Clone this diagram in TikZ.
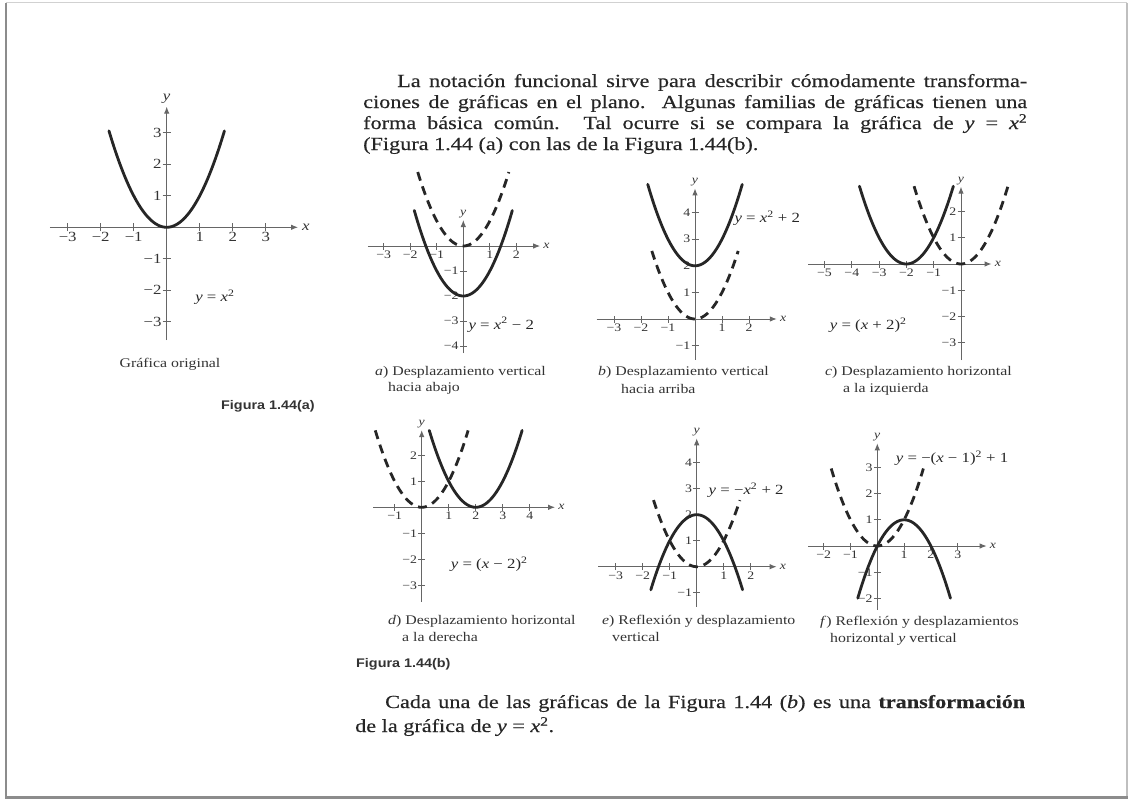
\documentclass[tikz,border=0pt]{standalone}
\usepackage{fontspec}
\setmainfont{Liberation Serif}[FakeStretch=1.2]
\newfontfamily\bodyfont{Liberation Serif}[FakeStretch=1.2, FakeBold=0.3]
\newfontfamily\figsans{Liberation Sans}[FakeStretch=1.15]
\usetikzlibrary{arrows.meta}
\newcommand\vy{\textit{y}}
\newcommand\vx{\textit{x}}
\newcommand\lab[1]{\ifnum#1<0 −\number\numexpr-#1\relax\else#1\fi}
\tikzset{
  ax/.style={draw=black!60, line width=1pt},
  axa/.style={ax, -{Latex[length=7pt,width=5.5pt]}},
  crv/.style={draw=black!85, line width=2.8pt, line cap=round},
  dcrv/.style={draw=black!85, line width=2.8pt, dash pattern=on 9pt off 6pt},
  tl/.style={inner sep=1pt, text=black!80, font=\fontsize{11.5}{12}\selectfont},
  tlb/.style={inner sep=1pt, text=black!80, font=\fontsize{14}{15}\selectfont},
  eqtxt/.style={inner sep=1pt, text=black!85, font=\fontsize{14}{15}\selectfont},
  captxt/.style={inner sep=0pt, anchor=base west, text=black!80, font=\fontsize{13.2}{14}\selectfont},
  bodytxt/.style={inner sep=0pt, anchor=base west, text=black!85, font=\bodyfont\fontsize{18.5}{21}\selectfont},
  figtxt/.style={inner sep=0pt, anchor=base west, text=black!80, font=\figsans\bfseries\fontsize{12.5}{14}\selectfont},
}
\begin{document}
\begin{tikzpicture}[x=1pt,y=-1pt]
\useasboundingbox (0,0) rectangle (1132,801);
\fill[white] (0,0) rectangle (1132,801);
% page frame with shadow
\draw[black!18, line width=1pt] (6,2.5) -- (1127,2.5);
\draw[black!25, line width=1.2pt] (1127,2.5) -- (1127,796);
\draw[black!45, line width=2.5pt] (6,3) -- (6,797);
\draw[black!45, line width=3pt] (5,797.5) -- (1128,797.5);

% ---------- Figura 1.44(a): original graph ----------
\begin{scope}[shift={(166.7pt,-227.3pt)}, x=33pt, y=31.5pt]
  \draw[axa] (-3.54,0) -- (3.98,0);
  \draw[axa] (0,-3.58) -- (0,3.83);
  \foreach \t in {-3,-2,-1,1,2,3} {
    \draw[ax] ([yshift=-4pt]\t,0) -- ([yshift=4pt]\t,0);
    \node[tlb, anchor=north] (mx\t) at ([yshift=-4pt]\t,0) {\lab{\t}};
    \draw[ax] ([xshift=-4pt]0,\t) -- ([xshift=4pt]0,\t);
    \node[tlb, anchor=east] (my\t) at ([xshift=-4pt]0,\t) {\lab{\t}};
  }
  \node[tlb, anchor=west] (mxl) at ([xshift=3pt]3.98,0) {\vx};
  \node[tlb, anchor=south] (myl) at ([yshift=2pt]0,3.83) {\vy};
  \draw[crv] plot[domain=-1.75:1.75, samples=60, smooth] (\x,{\x*\x});
  \node[eqtxt] (meq) at (1.46,-2.21) {\vy{} = \vx\textsuperscript{2}};
\end{scope}
\node[captxt, anchor=base] (morig) at (170,367) {Gráfica original};
\node[figtxt] (fa) at (221,409) {Figura 1.44(a)};

% ---------- top paragraph ----------
\node[bodytxt] (t1) at (397,87) {\makebox[630pt][s]{La notación funcional sirve para describir cómodamente transforma-}};
\node[bodytxt] (t2) at (363,108) {\makebox[664pt][s]{ciones de gráficas en el plano. Algunas familias de gráficas tienen una}};
\node[bodytxt] (t3) at (363,129) {\makebox[664pt][s]{forma básica común. Tal ocurre si se compara la gráfica de \vy{} = \vx\textsuperscript{2}}};
\node[bodytxt] (t4) at (363,150) {(Figura 1.44 (a) con las de la Figura 1.44(b).};

% ---------- a) ----------
\begin{scope}[shift={(463.3pt,-246pt)}, x=26.5pt, y=25pt]
  \draw[axa] (-3.6,0) -- (2.9,0);
  \draw[axa] (0,-4.28) -- (0,1.04);
  \foreach \t in {-3,-2,-1,1,2} {
    \draw[ax] ([yshift=-3.5pt]\t,0) -- ([yshift=3.5pt]\t,0);
    \node[tl, anchor=north] (ax\t) at ([yshift=-3.5pt]\t,0) {\lab{\t}};
  }
  \foreach \t in {-4,-3,-2,-1} {
    \draw[ax] ([xshift=-3.5pt]0,\t) -- ([xshift=3.5pt]0,\t);
    \node[tl, anchor=east] (ay\t) at ([xshift=-3.5pt]0,\t) {\lab{\t}};
  }
  \node[tl, anchor=west] (axl) at ([xshift=2pt]2.9,0) {\vx};
  \node[tl, anchor=south] (ayl) at ([yshift=1pt]0,1.04) {\vy};
  \draw[dcrv] plot[domain=-1.72:1.72, samples=60, smooth] (\x,{\x*\x});
  \draw[crv] plot[domain=-1.85:1.85, samples=60, smooth] (\x,{\x*\x-2});
  \node[eqtxt, anchor=west] (aeq) at ([xshift=4pt]0,-3.15) {\vy{} = \vx\textsuperscript{2} − 2};
\end{scope}
\node[captxt] (ac1) at (375,375) {\textit{a}) Desplazamiento vertical};
\node[captxt] (ac2) at (388,391) {hacia abajo};

% ---------- b) ----------
\begin{scope}[shift={(695pt,-319pt)}, x=27pt, y=26.6pt]
  \draw[axa] (-3.64,0) -- (3.03,0);
  \draw[axa] (0,-1.54) -- (0,4.91);
  \foreach \t in {-3,-2,-1,1,2} {
    \draw[ax] ([yshift=-3.5pt]\t,0) -- ([yshift=3.5pt]\t,0);
    \node[tl, anchor=north] (bx\t) at ([yshift=-3.5pt]\t,0) {\lab{\t}};
  }
  \foreach \t in {-1,1,2,3,4} {
    \draw[ax] ([xshift=-3.5pt]0,\t) -- ([xshift=3.5pt]0,\t);
    \node[tl, anchor=east] (by\t) at ([xshift=-3.5pt]0,\t) {\lab{\t}};
  }
  \node[tl, anchor=west] (bxl) at ([xshift=2pt]3.03,0) {\vx};
  \node[tl, anchor=south] (byl) at ([yshift=1pt]0,4.91) {\vy};
  \draw[dcrv] plot[domain=-1.6:1.6, samples=60, smooth] (\x,{\x*\x});
  \draw[crv] plot[domain=-1.75:1.75, samples=60, smooth] (\x,{\x*\x+2});
  \node[eqtxt, anchor=west] (beq) at (1.42,3.8) {\vy{} = \vx\textsuperscript{2} + 2};
\end{scope}
\node[captxt] (bc1) at (598,375) {\textit{b}) Desplazamiento vertical};
\node[captxt] (bc2) at (621,393) {hacia arriba};

% ---------- c) ----------
\begin{scope}[shift={(961pt,-264pt)}, x=27.3pt, y=26.3pt]
  \draw[axa] (-5.59,0) -- (1.12,0);
  \draw[axa] (0,-3.65) -- (0,2.94);
  \foreach \t in {-5,-4,-3,-2,-1} {
    \draw[ax] ([yshift=-3.5pt]\t,0) -- ([yshift=3.5pt]\t,0);
    \node[tl, anchor=north] (cx\t) at ([yshift=-3.5pt]\t,0) {\lab{\t}};
  }
  \foreach \t in {-3,-2,-1,1,2} {
    \draw[ax] ([xshift=-3.5pt]0,\t) -- ([xshift=3.5pt]0,\t);
    \node[tl, anchor=east] (cy\t) at ([xshift=-3.5pt]0,\t) {\lab{\t}};
  }
  \node[tl, anchor=west] (cxl) at ([xshift=2pt]1.12,0) {\vx};
  \node[tl, anchor=south] (cyl) at ([yshift=1pt]0,2.94) {\vy};
  \draw[dcrv] plot[domain=-1.72:1.72, samples=60, smooth] (\x,{\x*\x});
  \draw[crv] plot[domain=-3.72:-0.28, samples=60, smooth] (\x,{(\x+2)*(\x+2)});
  \node[eqtxt] (ceq) at (-3.4,-2.33) {\vy{} = (\vx{} + 2)\textsuperscript{2}};
\end{scope}
\node[captxt] (cc1) at (825,375) {\textit{c}) Desplazamiento horizontal};
\node[captxt] (cc2) at (843,392) {a la izquierda};

% ---------- d) ----------
\begin{scope}[shift={(421.7pt,-507.3pt)}, x=27pt, y=26pt]
  \draw[axa] (-1.79,0) -- (4.94,0);
  \draw[axa] (0,-3.63) -- (0,2.97);
  \foreach \t in {-1,1,2,3,4} {
    \draw[ax] ([yshift=-3.5pt]\t,0) -- ([yshift=3.5pt]\t,0);
    \node[tl, anchor=north] (dx\t) at ([yshift=-3.5pt]\t,0) {\lab{\t}};
  }
  \foreach \t in {-3,-2,-1,1,2} {
    \draw[ax] ([xshift=-3.5pt]0,\t) -- ([xshift=3.5pt]0,\t);
    \node[tl, anchor=east] (dy\t) at ([xshift=-3.5pt]0,\t) {\lab{\t}};
  }
  \node[tl, anchor=west] (dxl) at ([xshift=2pt]4.94,0) {\vx};
  \node[tl, anchor=south] (dyl) at ([yshift=1pt]0,2.97) {\vy};
  \draw[dcrv] plot[domain=-1.72:1.72, samples=60, smooth] (\x,{\x*\x});
  \draw[crv] plot[domain=0.28:3.72, samples=60, smooth] (\x,{(\x-2)*(\x-2)});
  \node[eqtxt] (deq) at (2.5,-2.2) {\vy{} = (\vx{} − 2)\textsuperscript{2}};
\end{scope}
\node[captxt] (dc1) at (388,624) {\textit{d}) Desplazamiento horizontal};
\node[captxt] (dc2) at (402,641) {a la derecha};
\node[figtxt] (fb) at (356,667) {Figura 1.44(b)};

% ---------- e) ----------
\begin{scope}[shift={(696.7pt,-566.7pt)}, x=27pt, y=26pt]
  \draw[axa] (-3.64,0) -- (2.96,0);
  \draw[axa] (0,-1.54) -- (0,4.94);
  \foreach \t in {-3,-2,-1,1,2} {
    \draw[ax] ([yshift=-3.5pt]\t,0) -- ([yshift=3.5pt]\t,0);
    \node[tl, anchor=north] (ex\t) at ([yshift=-3.5pt]\t,0) {\lab{\t}};
  }
  \foreach \t in {-1,1,2,3,4} {
    \draw[ax] ([xshift=-3.5pt]0,\t) -- ([xshift=3.5pt]0,\t);
    \node[tl, anchor=east] (ey\t) at ([xshift=-3.5pt]0,\t) {\lab{\t}};
  }
  \node[tl, anchor=west] (exl) at ([xshift=2pt]2.96,0) {\vx};
  \node[tl, anchor=south] (eyl) at ([yshift=1pt]0,4.94) {\vy};
  \draw[dcrv] plot[domain=-1.6:1.6, samples=60, smooth] (\x,{\x*\x});
  \draw[crv] plot[domain=-1.7:1.7, samples=60, smooth] (\x,{2-\x*\x});
  \node[eqtxt, anchor=west] (eeq) at (0.4,2.95) {\vy{} = −\vx\textsuperscript{2} + 2};
\end{scope}
\node[captxt] (ec1) at (602,624) {\textit{e}) Reflexión y desplazamiento};
\node[captxt] (ec2) at (612,641) {vertical};

% ---------- f) ----------
\begin{scope}[shift={(877.3pt,-546pt)}, x=26.8pt, y=26.2pt]
  \draw[axa] (-2.57,0) -- (4.08,0);
  \draw[axa] (0,-2.44) -- (0,3.92);
  \foreach \t in {-2,-1,1,2,3} {
    \draw[ax] ([yshift=-3.5pt]\t,0) -- ([yshift=3.5pt]\t,0);
    \node[tl, anchor=north] (fx\t) at ([yshift=-3.5pt]\t,0) {\lab{\t}};
    \draw[ax] ([xshift=-3.5pt]0,\t) -- ([xshift=3.5pt]0,\t);
  }
  \foreach \t in {-2,-1,1,2,3} {
    \node[tl, anchor=east] (fy\t) at ([xshift=-3.5pt]0,\t) {\lab{\t}};
  }
  \node[tl, anchor=west] (fxl) at ([xshift=2pt]4.08,0) {\vx};
  \node[tl, anchor=south] (fyl) at ([yshift=1pt]0,3.92) {\vy};
  \draw[dcrv] plot[domain=-1.72:1.72, samples=60, smooth] (\x,{\x*\x});
  \draw[crv] plot[domain=-0.73:2.73, samples=60, smooth] (\x,{1-(\x-1)*(\x-1)});
  \node[eqtxt, anchor=west] (feq) at (0.65,3.35) {\vy{} = −(\vx{} − 1)\textsuperscript{2} + 1};
\end{scope}
\node[captxt] (fc1) at (820,625) {\textit{f}) Reflexión y desplazamientos};
\node[captxt] (fc2) at (830,642) {horizontal \textit{y} vertical};

% ---------- bottom paragraph ----------
\node[bodytxt] (u1) at (385,708) {\makebox[640pt][s]{Cada una de las gráficas de la Figura 1.44 (\textit{b}) es una \textbf{transformación}}};
\node[bodytxt] (u2) at (355,732) {de la gráfica de \vy{} = \vx\textsuperscript{2}.};
\end{tikzpicture}
\end{document}
